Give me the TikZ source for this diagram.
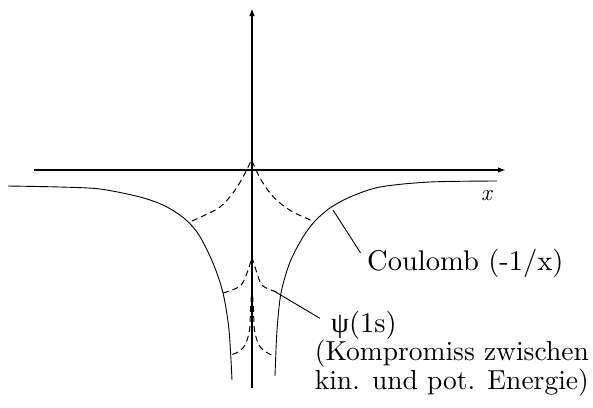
\documentclass[tikz,border=0pt]{standalone}
\usepackage{fontspec}
\setmainfont{lmroman10-regular.otf}[ItalicFont=lmroman10-italic.otf]
\newfontfamily\grkfont{Liberation Serif}
\usetikzlibrary{arrows.meta}

\begin{document}
\begin{tikzpicture}[
  x=1pt, y=-1pt,
  >={Latex[length=8pt, width=5.5pt]},
  axis/.style={->, line width=1.8pt, black},
  coul/.style={line width=0.9pt, black},
  wave/.style={line width=1pt, black, dash pattern=on 6pt off 4pt},
  lead/.style={line width=0.9pt, black},
  lbl/.style={font=\fontsize{28.5}{25.5}\selectfont, text=black, inner sep=0pt},
]

% Canvas
\useasboundingbox (0,0) rectangle (593,407);

% =============================================
% Axes
% =============================================
\coordinate (xneg) at (34,170);
\coordinate (xpos) at (506,170);
\coordinate (ybot) at (252,388);
\coordinate (ytop) at (252,8);

\draw[axis] (xneg) -- (xpos);
\draw[axis] (ybot) -- (ytop);

\node[lbl, font=\fontsize{23}{23}\selectfont\itshape, anchor=base west] (xlab) at (481,200) {x};

% =============================================
% Coulomb potential (-1/x)
% =============================================
\draw[coul] plot[smooth, tension=0.5] coordinates {
  (8,186) (60,187) (100,189) (140,197) (165,206) (185,219) (199,235)
  (213,263) (223,293) (229,330) (232,380)};
\draw[coul] plot[smooth, tension=0.5] coordinates {
  (497,181) (430,182) (380,187) (350,197) (330,208) (315,221) (303,237)
  (290,262) (281,293) (277,330) (275,376)};

% =============================================
% Wave functions psi(1s) (dashed)
% =============================================
% outer
\draw[wave] plot[smooth, tension=0.6] coordinates {
  (192,221) (205,215) (220,207) (233,193) (243,177) (251,161)};
\draw[wave] plot[smooth, tension=0.6] coordinates {
  (252,161) (260,178) (270,193) (280,203) (293,212) (313,221)};
% middle
\draw[wave] plot[smooth, tension=0.6] coordinates {
  (223,293) (240,286) (247,273) (252,257)};
\draw[wave] plot[smooth, tension=0.6] coordinates {
  (252,257) (257,273) (263,286) (280,293)};
% inner
\draw[wave] plot[smooth, tension=0.6] coordinates {
  (252,286) (250.5,310) (249.5,330) (245,345) (238,352) (230,355)};
\draw[wave] plot[smooth, tension=0.6] coordinates {
  (252,286) (253.5,310) (254.5,330) (259,345) (266,352) (274,356)};

% =============================================
% Labels
% =============================================
\node[lbl, anchor=base west] (coulomb) at (367,270) {Coulomb (-1/x)};
\node[lbl, anchor=base west] (psi) at (331,332) {{\grkfont ψ}(1s)};
\node[lbl, font=\fontsize{27.5}{25}\selectfont, anchor=base east, align=right]
  (komp) at (589,389) {(Kompromiss zwischen\\kin. und pot. Energie)};

% leader lines
\coordinate (cp) at (333,210);
\coordinate (pp) at (274,291);
\draw[lead, shorten >=12pt] (cp) -- (coulomb.west);
\draw[lead, shorten >=13pt] (pp) -- (psi.west);

\end{tikzpicture}
\end{document}
